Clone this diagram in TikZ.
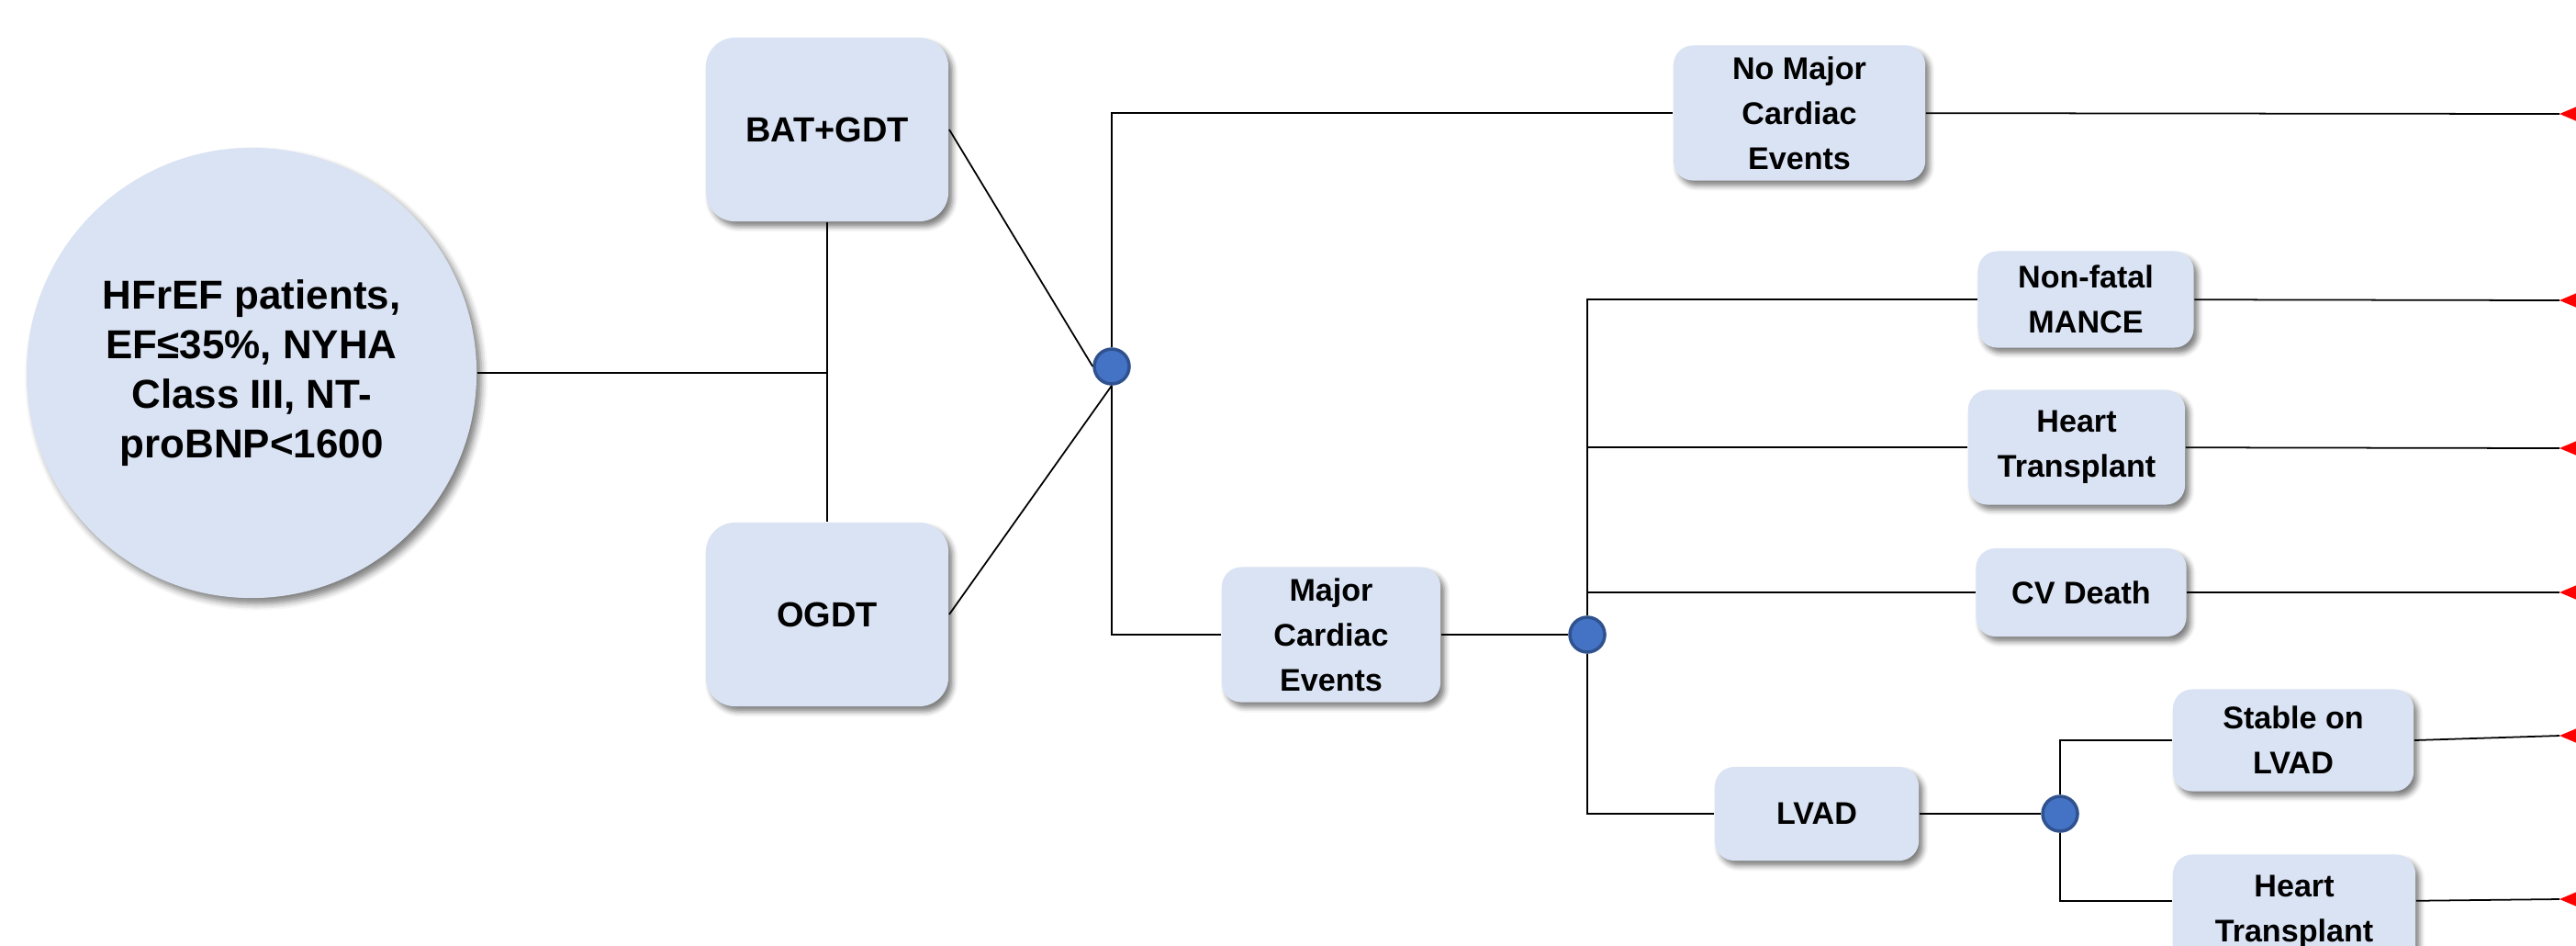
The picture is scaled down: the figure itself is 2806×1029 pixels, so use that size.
\documentclass[tikz,border=0pt]{standalone}
\usepackage{fontspec}
\setmainfont{Liberation Sans}
\usetikzlibrary{shadows.blur}
\definecolor{boxfill}{HTML}{DAE3F3}
\definecolor{chancefill}{HTML}{4472C4}
\definecolor{chancedraw}{HTML}{2F528F}

\begin{document}
\begin{tikzpicture}[x=0.01cm, y=-0.01cm, line width=0.5pt,
  box/.style={rectangle, rounded corners=6pt, fill=boxfill, inner sep=0pt, align=center,
    font=\bfseries\fontsize{9.7}{13.9}\selectfont,
    blur shadow={shadow xshift=1.3pt, shadow yshift=-1.6pt, shadow blur radius=1.6pt, shadow opacity=50}},
  arm/.style={box, minimum width=2.64cm, minimum height=2cm, rounded corners=9pt,
    font=\bfseries\fontsize{10.8}{14}\selectfont},
  chance/.style={circle, fill=chancefill, draw=chancedraw, line width=1pt, minimum size=0.38cm, inner sep=0pt}]
\useasboundingbox (0,0) rectangle (2806,1029);

\node[circle, fill=boxfill, minimum size=4.9cm, inner sep=0pt, align=center,
  font=\bfseries\fontsize{12.5}{15.3}\selectfont,
  blur shadow={shadow xshift=1.5pt, shadow yshift=-1.8pt, shadow blur radius=2pt, shadow opacity=50}]
  (pop) at (274,406) {HFrEF patients,\\EF≤35\%, NYHA\\Class III, NT-\\proBNP<1600};

\node[arm] (bat) at (901,141) {BAT+GDT};
\node[arm] (ogdt) at (901,669) {OGDT};
\node[chance] (c1) at (1211,399) {};

\node[box, minimum width=2.74cm, minimum height=1.47cm] (nomaj) at (1960,123) {No Major\\Cardiac\\Events};
\node[box, minimum width=2.38cm, minimum height=1.47cm] (major) at (1450,691) {Major\\Cardiac\\Events};
\node[chance] (c2) at (1729,691) {};

\node[box, minimum width=2.35cm, minimum height=1.05cm] (mance) at (2272,326) {Non-fatal\\MANCE};
\node[box, minimum width=2.36cm, minimum height=1.25cm] (ht1) at (2262,487) {Heart\\Transplant};
\node[box, minimum width=2.29cm, minimum height=0.96cm] (cvd) at (2267,645) {CV Death};
\node[box, minimum width=2.22cm, minimum height=1.02cm] (lvad) at (1979,886) {LVAD};
\node[chance] (c3) at (2244,886) {};

\node[box, minimum width=2.62cm, minimum height=1.11cm] (stab) at (2498,806) {Stable on\\LVAD};
\node[box, minimum width=2.64cm, minimum height=1.25cm] (ht2) at (2499,993) {Heart\\Transplant};

\coordinate (o1) at (2788,124);
\coordinate (o2) at (2788,327);
\coordinate (o3) at (2788,488);
\coordinate (o4) at (2788,645);
\coordinate (o5) at (2788,801);
\coordinate (o6) at (2788,979);

\draw (pop) -- (pop -| bat);
\draw (bat) -- (ogdt);
\draw (bat.east) -- (c1.west);
\draw (ogdt.east) -- (c1.south);
\draw (c1) |- (nomaj.west);
\draw (c1) |- (major.west);
\draw (major) -- (c2);
\draw (c2) |- (mance.west);
\draw (c2) |- (ht1.west);
\draw (c2) |- (cvd.west);
\draw (c2) |- (lvad.west);
\draw (lvad) -- (c3);
\draw (c3) |- (stab.west);
\draw (c3) |- ([yshift=-0.5pt]ht2.west |- o6);

\draw (nomaj) -- (o1);
\draw (mance) -- (o2);
\draw (ht1) -- (o3);
\draw (cvd) -- (o4);
\draw (stab.east) -- (o5);
\draw ([yshift=-0.5pt]ht2.east |- o6) -- (o6);
\foreach \t in {o1,o2,o3,o4,o5,o6}
  \fill [red] (\t) -- ++(26,-11) -- ++(0,22) -- cycle;
\end{tikzpicture}
\end{document}
